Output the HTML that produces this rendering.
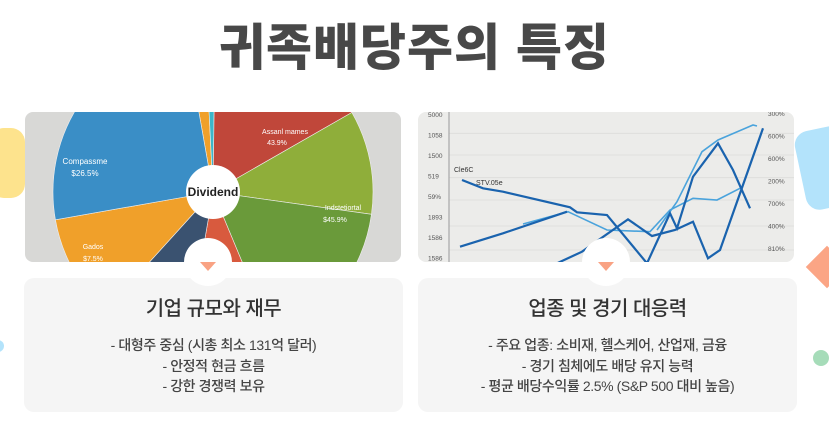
<!DOCTYPE html>
<html><head><meta charset="utf-8"><style>
body{margin:0;width:829px;height:423px;background:#fff;position:relative;overflow:hidden;font-family:"Liberation Sans","Noto Sans CJK KR",sans-serif}
.abs{position:absolute}
h1{position:absolute;left:0;width:829px;top:18px;margin:0;text-align:center;font-size:50px;font-weight:900;color:#484848;letter-spacing:1px;line-height:60px}
.card{position:absolute;top:278px;width:379px;height:134px;background:#f5f5f5;border-radius:10px;text-align:center;color:#444}
.card h2{margin:14px 0 14px;font-size:20px;font-weight:500;color:#333;letter-spacing:-0.5px}
.card p{margin:0;font-size:14px;line-height:20.5px;font-weight:500;letter-spacing:-0.4px}
.img{position:absolute;top:112px;width:376px;height:150px;border-radius:8px;overflow:hidden}
.knob{position:absolute;top:238px;width:48px;height:48px;border-radius:50%;background:#fff}
.tri{position:absolute;top:262px;width:0;height:0;border-left:8px solid transparent;border-right:8px solid transparent;border-top:9px solid #f9a283}
</style></head><body>
<div class="abs" style="left:-10px;top:128px;width:35px;height:70px;background:#fde38d;border-radius:14px"></div>
<div class="abs" style="left:800px;top:128px;width:50px;height:80px;background:#b3e3fb;border-radius:14px;transform:rotate(-12deg)"></div>
<div class="abs" style="left:812px;top:252px;width:30px;height:30px;background:#fba585;transform:rotate(45deg)"></div>
<div class="abs" style="left:813px;top:350px;width:16px;height:16px;border-radius:50%;background:#a6dcb9"></div>
<div class="abs" style="left:-8px;top:340px;width:12px;height:12px;border-radius:50%;background:#b3e3fb"></div>
<h1>귀족배당주의 특징</h1>

<div class="img" style="left:25px;background:#d8d8d6">
<svg id="pie" width="376" height="150"></svg>
</div>
<div class="img" style="left:418px;background:#ececea">
<svg id="line" width="376" height="150"></svg>
</div>

<div class="card" style="left:24px">
<h2>기업 규모와 재무</h2>
<p>- 대형주 중심 (시총 최소 131억 달러)</p><p>- 안정적 현금 흐름</p><p>- 강한 경쟁력 보유</p>
</div>
<div class="card" style="left:418px">
<h2>업종 및 경기 대응력</h2>
<p>- 주요 업종: 소비재, 헬스케어, 산업재, 금융</p><p>- 경기 침체에도 배당 유지 능력</p><p>- 평균 배당수익률 2.5% (S&amp;P 500 대비 높음)</p>
</div>
<div class="knob" style="left:184px"></div>
<div class="tri" style="left:200px"></div>
<div class="knob" style="left:582px"></div>
<div class="tri" style="left:598px"></div>

<script>
const sliceNames=["orange-small","cyan","red","light-green","dark-green","red-bottom","navy","orange","blue"];
const sliceValues=[2,1,16.5,10.5,16.5,9,9,10.5,25];
const sliceColors=["#f0a02a","#3bb6c9","#c0473a","#8fae3a","#6a9a3a","#d85a3e","#3a5270","#f0a02a","#3a8ec6"];
const NS="http://www.w3.org/2000/svg";
(function(){
const svg=document.getElementById('pie');
const cx=188,cy=80,r=160;let a=-10;
const tot=sliceValues.reduce((s,v)=>s+v,0);
sliceValues.forEach((v,i)=>{
 const a2=a+v/tot*360;
 const p=(d)=>[cx+r*Math.sin(d*Math.PI/180),cy-r*Math.cos(d*Math.PI/180)];
 const [x1,y1]=p(a),[x2,y2]=p(a2);
 const path=document.createElementNS(NS,'path');
 path.setAttribute('d',`M${cx},${cy}L${x1},${y1}A${r},${r} 0 ${a2-a>180?1:0} 1 ${x2},${y2}Z`);
 path.setAttribute('fill',sliceColors[i]);
 path.setAttribute('stroke','#eee');path.setAttribute('stroke-width','0.6');
 
 
 svg.appendChild(path);a=a2;
});
const c=document.createElementNS(NS,'circle');
c.setAttribute('cx',cx);c.setAttribute('cy',cy);c.setAttribute('r',27);c.setAttribute('fill','#fff');


svg.appendChild(c);
const labels=[["Dividend",cx,cy+4,12,"#222","bold"],["Compassme",60,52,8,"#fff",""],["$26.5%",60,64,8,"#fff",""],["Assanl mames",260,22,7,"#fff",""],["43.9%",252,33,7,"#fff",""],["Indstetiortal",318,98,7,"#fff",""],["$45.9%",310,110,7,"#fff",""],["Gados",68,137,7,"#fff",""],["$7.5%",68,149,7,"#fff",""]];
labels.forEach(l=>{const t=document.createElementNS(NS,'text');t.setAttribute('x',l[1]);t.setAttribute('y',l[2]);t.setAttribute('text-anchor','middle');t.setAttribute('font-size',l[3]);t.setAttribute('fill',l[4]);if(l[5])t.setAttribute('font-weight',l[5]);t.textContent=l[0];


svg.appendChild(t);});
})();
</script>
<script>
const leftTicks=["5000","1058","1500","519","59%","1893","1586","1586"];
const rightTicks=["300%","600%","600%","200%","700%","400%","810%"];
const gridValues=[116.7,95,72.3,50,24,0];
const seriesAx=[5.2,7.3,9.3,16,16.7,19.7,23.7,26,26.7,28.3,30.8,32.3,34];
const seriesAy=[70,61.7,58.3,42.7,37.7,35,-13.3,36.7,21.7,73.3,106.7,80,41.7];
const seriesBx=[11.3,15.8,19.7,24,26,28.3,30.7,33];
const seriesBy=[26,38.3,20,18.3,40,51.7,50,61.7];
const seriesCx=[24.7,26.7,29.2,30.8,34.3,34.7];
const seriesCy=[20,48.3,98.3,110,125,124];
const seriesDx=[5,9.3,15.7];
const seriesDy=[3.3,16.7,38.3];
const seriesEx=[14.7,17.2,21.8,24.2,26.5,28.3,29.8,31,35.3];
const seriesEy=[-13.3,-1.7,30.7,14,20,28.3,-8.3,0,121.7];
(function(){
const svg=document.getElementById('line');
const X=x=>x*10-8, Y=v=>138-v;
gridValues.forEach((g,i)=>{const l=document.createElementNS(NS,'line');l.setAttribute('x1',31);l.setAttribute('x2',376);l.setAttribute('y1',Y(g));l.setAttribute('y2',Y(g));l.setAttribute('stroke','#dcdcda');l.setAttribute('stroke-width','0.8');


svg.appendChild(l);});
const ax=document.createElementNS(NS,'line');ax.setAttribute('x1',31);ax.setAttribute('x2',31);ax.setAttribute('y1',0);ax.setAttribute('y2',150);ax.setAttribute('stroke','#999');


svg.appendChild(ax);
leftTicks.forEach((t,i)=>{const e=document.createElementNS(NS,'text');e.setAttribute('x',10);e.setAttribute('y',5+i*20.5);e.setAttribute('font-size',6.5);e.setAttribute('fill','#555');e.textContent=t;


svg.appendChild(e);});
rightTicks.forEach((t,i)=>{const e=document.createElementNS(NS,'text');e.setAttribute('x',350);e.setAttribute('y',4+i*22.5);e.setAttribute('font-size',6.5);e.setAttribute('fill','#555');e.textContent=t;


svg.appendChild(e);});
[["Cle6C",36,60],["STV.05e",58,73]].forEach(l=>{const e=document.createElementNS(NS,'text');e.setAttribute('x',l[1]);e.setAttribute('y',l[2]);e.setAttribute('font-size',7);e.setAttribute('fill','#333');e.textContent=l[0];


svg.appendChild(e);});
const series=[["series-b",seriesBx,seriesBy,"#4aa3dc",1.6],["series-c",seriesCx,seriesCy,"#4aa3dc",1.6],["series-a",seriesAx,seriesAy,"#1a63ae",2.2],["series-d",seriesDx,seriesDy,"#1a63ae",2.2],["series-e",seriesEx,seriesEy,"#1a63ae",2.2]];
series.forEach(s=>{const p=document.createElementNS(NS,'polyline');p.setAttribute('points',s[1].map((x,i)=>X(x)+','+Y(s[2][i])).join(' '));p.setAttribute('fill','none');p.setAttribute('stroke',s[3]);p.setAttribute('stroke-width',s[4]);


svg.appendChild(p);});
})();
</script>
</body></html>
